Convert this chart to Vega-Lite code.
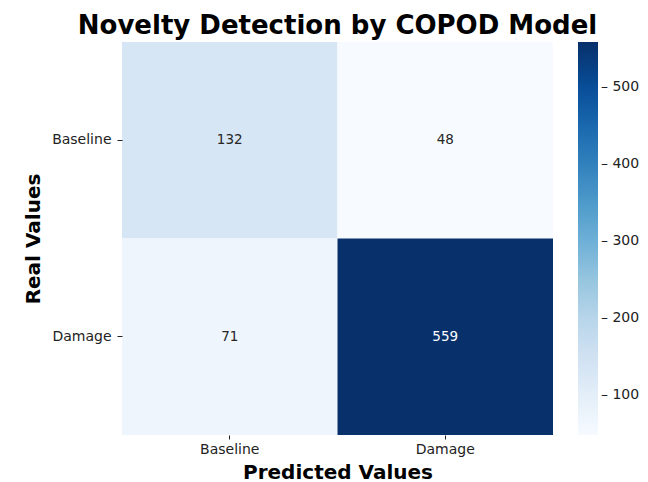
{
  "$schema": "https://vega.github.io/schema/vega-lite/v6.json",
  "autosize": "none",
  "width": 431,
  "height": 393,
  "padding": {"left": 122, "top": 42, "right": 95, "bottom": 47},
  "background": "white",
  "title": {
    "text": "Novelty Detection by COPOD Model",
    "font": "DejaVu Sans",
    "fontSize": 26,
    "fontWeight": "bold",
    "color": "#000000",
    "anchor": "middle",
    "offset": 3
  },
  "data": {
    "values": [
      {"real": "Baseline", "pred": "Baseline", "count": 132},
      {"real": "Baseline", "pred": "Damage", "count": 48},
      {"real": "Damage", "pred": "Baseline", "count": 71},
      {"real": "Damage", "pred": "Damage", "count": 559}
    ]
  },
  "config": {
    "view": {"stroke": null},
    "font": "DejaVu Sans"
  },
  "encoding": {
    "x": {
      "field": "pred", "type": "nominal", "sort": ["Baseline", "Damage"],
      "scale": {"paddingInner": 0, "paddingOuter": 0},
      "axis": {
        "title": "Predicted Values", "titleFontSize": 20, "titleFontWeight": "bold", "titleColor": "#000",
        "titleFont": "DejaVu Sans", "titlePadding": 6,
        "labelAngle": 0, "labelFontSize": 14, "labelColor": "#222", "labelFont": "DejaVu Sans",
        "domain": false, "tickColor": "#222", "tickSize": 4, "labelPadding": 3, "grid": false
      }
    },
    "y": {
      "field": "real", "type": "nominal", "sort": ["Baseline", "Damage"],
      "scale": {"paddingInner": 0, "paddingOuter": 0},
      "axis": {
        "title": "Real Values", "titleFontSize": 20, "titleFontWeight": "bold", "titleColor": "#000",
        "titleFont": "DejaVu Sans", "titlePadding": 8,
        "labelFontSize": 14, "labelColor": "#222", "labelFont": "DejaVu Sans",
        "domain": false, "tickColor": "#222", "tickSize": 5, "labelPadding": 6, "grid": false
      }
    }
  },
  "layer": [
    {
      "mark": {"type": "rect"},
      "encoding": {
        "color": {
          "field": "count", "type": "quantitative",
          "scale": {
            "domain": [48, 111.875, 175.75, 239.625, 303.5, 367.375, 431.25, 495.125, 559],
            "range": ["#f7fbff", "#deebf7", "#c6dbef", "#9ecae1", "#6baed6", "#4292c6", "#2171b5", "#08519c", "#08306b"],
            "interpolate": "rgb"
          },
          "legend": {
            "title": null,
            "orient": "none",
            "legendX": 456,
            "legendY": 0,
            "direction": "vertical",
            "gradientLength": 393,
            "gradientThickness": 20,
            "gradientStrokeWidth": 0,
            "values": [100, 200, 300, 400, 500],
            "labelExpr": "'–  ' + datum.label",
            "labelFontSize": 14,
            "labelColor": "#222",
            "labelFont": "DejaVu Sans",
            "labelOffset": 3
          }
        }
      }
    },
    {
      "mark": {"type": "text", "fontSize": 13.5, "font": "DejaVu Sans"},
      "encoding": {
        "text": {"field": "count", "type": "quantitative"},
        "color": {
          "condition": {"test": "datum.count > 300", "value": "#ffffff"},
          "value": "#262626"
        }
      }
    }
  ]
}
